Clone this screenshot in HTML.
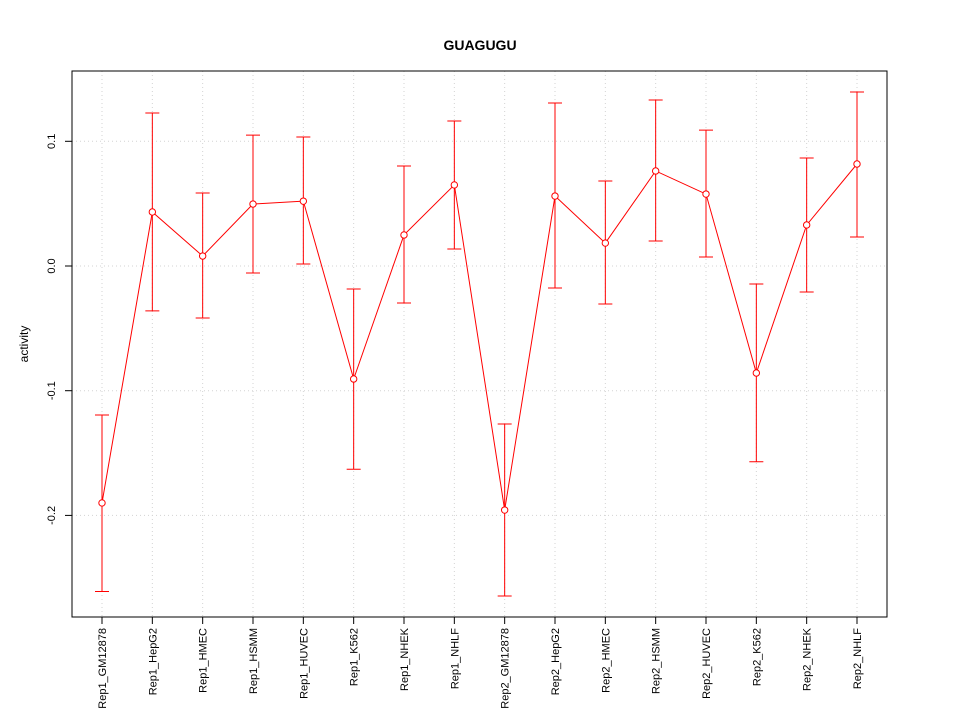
<!DOCTYPE html>
<html><head><meta charset="utf-8"><style>
body{margin:0;background:#fff}
svg text{font-family:"Liberation Sans",sans-serif}
</style></head><body>
<svg id="chart" width="960" height="720" xmlns="http://www.w3.org/2000/svg">
<rect width="960" height="720" fill="#fff"/>
<text x="480" y="50" text-anchor="middle" font-size="14" font-weight="bold">GUAGUGU</text>
<text transform="translate(28,344) rotate(-90)" text-anchor="middle" font-size="12">activity</text>
<g id="grid"></g><g id="axes"></g><g id="marks"></g>
<rect x="72" y="71" width="815" height="546" fill="none" stroke="#000"/>
</svg>
<script>
const categories=["Rep1_GM12878","Rep1_HepG2","Rep1_HMEC","Rep1_HSMM","Rep1_HUVEC","Rep1_K562","Rep1_NHEK","Rep1_NHLF","Rep2_GM12878","Rep2_HepG2","Rep2_HMEC","Rep2_HSMM","Rep2_HUVEC","Rep2_K562","Rep2_NHEK","Rep2_NHLF"];
const values=[-0.190,0.0433,0.008,0.0497,0.052,-0.0906,0.0249,0.065,-0.1957,0.0561,0.0184,0.0762,0.0577,-0.0858,0.0329,0.0818];
const upper=[-0.1195,0.1227,0.0585,0.105,0.1034,-0.0184,0.0802,0.1163,-0.1267,0.1307,0.0682,0.1331,0.109,-0.0144,0.0866,0.1395];
const lower=[-0.261,-0.036,-0.0417,-0.0056,0.0016,-0.163,-0.0297,0.0136,-0.2646,-0.0176,-0.0305,0.02,0.0072,-0.157,-0.0208,0.0233];
const yTicks=[-0.2,-0.1,0.0,0.1];
const yTickLabels=["-0.2","-0.1","0.0","0.1"];
const NS="http://www.w3.org/2000/svg";
const xS=i=>102+i*(857-102)/(categories.length-1);
const yS=v=>266-v*1247;
function mk(t,a,p){const e=document.createElementNS(NS,t);for(const k in a)e.setAttribute(k,a[k]);p.appendChild(e);return e;}
const grid=document.getElementById('grid'),axes=document.getElementById('axes'),marks=document.getElementById('marks');
categories.forEach((c,i)=>{
 const g=mk('line',{x1:xS(i),x2:xS(i),y1:71,y2:617,stroke:'#d3d3d3','stroke-dasharray':'1,3'},grid);
 
 
 const t=mk('line',{x1:xS(i),x2:xS(i),y1:617,y2:624,stroke:'#000'},axes);
 
 
 const l=mk('text',{transform:`translate(${xS(i)+4},628) rotate(-90)`,'text-anchor':'end','font-size':'11'},axes);
 l.textContent=c;
 
 
});
yTicks.forEach((v,i)=>{
 const g=mk('line',{x1:72,x2:887,y1:yS(v),y2:yS(v),stroke:'#d3d3d3','stroke-dasharray':'1,3'},grid);
 
 
 const t=mk('line',{x1:65,x2:72,y1:yS(v),y2:yS(v),stroke:'#000'},axes);
 
 
 const l=mk('text',{transform:`translate(55,${yS(v)}) rotate(-90)`,'text-anchor':'middle','font-size':'11'},axes);
 l.textContent=yTickLabels[i];
 
 
});
const line=mk('polyline',{points:values.map((v,i)=>xS(i)+','+yS(v)).join(' '),fill:'none',stroke:'#ff0000'},marks);


values.forEach((v,i)=>{
 const x=xS(i);
 const b=mk('path',{d:`M${x},${yS(upper[i])}V${yS(lower[i])}M${x-7},${yS(upper[i])}H${x+7}M${x-7},${yS(lower[i])}H${x+7}`,stroke:'#ff0000',fill:'none'},marks);
 
 
 const p=mk('circle',{cx:x,cy:yS(v),r:3.2,fill:'#fff',stroke:'#ff0000'},marks);
 
 
});
</script>
</body></html>
